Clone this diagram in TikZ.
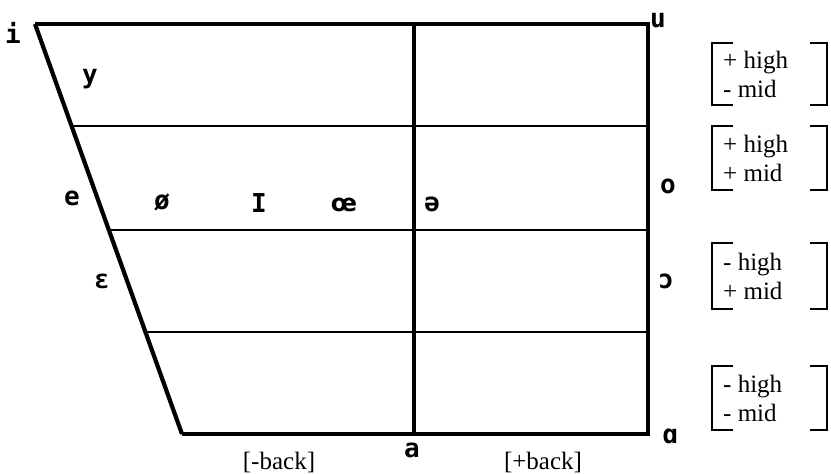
\documentclass[tikz,border=0pt]{standalone}
\usepackage{fontspec}
\setmainfont{Liberation Serif}
\newfontfamily\ipafont{DejaVu Sans Mono}
\newfontfamily\ipawide{DejaVu Sans}

\begin{document}
\begin{tikzpicture}[x=1pt, y=-1pt, line join=miter,
  vowel/.style={font=\fontsize{26}{30}\selectfont\ipafont\bfseries, inner sep=0pt, anchor=base},
  feat/.style={font=\fontsize{25}{29}\selectfont, align=left, inner sep=0pt, anchor=west},
  rule/.style={line width=3.2pt}]

  \useasboundingbox (0,0) rectangle (831,474);

  % corners of the chart
  \coordinate (tl) at (35,24);
  \coordinate (tr) at (648,24);
  \coordinate (br) at (648,434);
  \coordinate (bl) at (182,434);
  \coordinate (tm) at (414,24);
  \coordinate (bm) at (414,434);

  \draw[rule] (bl) -- (br) -- (tr) -- (tl);
  \draw[line width=4.2pt] (tl) -- (bl);
  \draw[rule] (tm) -- (bm);

  % height levels
  \foreach \h in {126,230,332} {
    \pgfmathsetmacro\xl{35+(\h-24)/410*147}
    \draw[line width=2.9pt] (\xl,\h) -- (648,\h);
  }

  % vowels
  \node[vowel] (v-i) at (13,43) {i};
  \node[vowel] (v-y) at (90,83) {y};
  \node[vowel] (v-e) at (72,205) {e};
  \node[vowel] (v-oe) at (162,209) {ø};
  \node[vowel] (v-I) at (259,212) {I};
  \node[vowel, font=\fontsize{24}{28}\selectfont\ipawide\bfseries] (v-oelig) at (344,211) {œ};
  \node[vowel] (v-schwa) at (432,211) {ə};
  \node[vowel] (v-eps) at (102,288) {ɛ};
  \node[vowel] (v-a) at (412,457) {a};
  \node[vowel] (v-u) at (658,27) {u};
  \node[vowel] (v-o) at (668,193) {o};
  \node[vowel] (v-open) at (666,288) {ɔ};
  \node[vowel] (v-alpha) at (670,443) {ɑ};

  % backness
  \node[font=\fontsize{25}{29}\selectfont, inner sep=0pt, anchor=base] (nback) at (279,469) {[-back]};
  \node[font=\fontsize{25}{29}\selectfont, inner sep=0pt, anchor=base] (pback) at (543,469) {[+back]};

  % feature matrices
  \foreach \t/\b/\txt [count=\k] in {43/105/{+ high\\- mid}, 126/190/{+ high\\+ mid},
                                    243/309/{- high\\+ mid}, 366/430/{- high\\- mid}} {
    \draw[line width=2.8pt] (733,\t) -- (712,\t) -- (712,\b) -- (733,\b);
    \draw[line width=2.8pt] (810,\t) -- (827,\t) -- (827,\b) -- (810,\b);
    \node[feat] (f\k) at (723,{(\t+\b)/2}) {\txt};
  }

\end{tikzpicture}
\end{document}
